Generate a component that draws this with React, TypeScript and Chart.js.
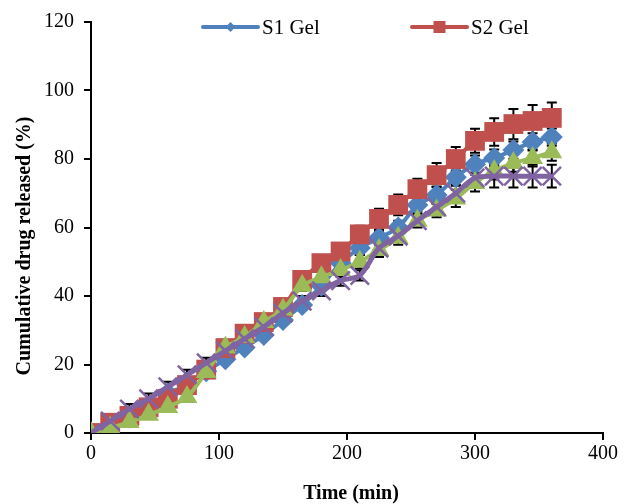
import React, { useEffect, useRef } from "react";
import { Chart, registerables } from "chart.js";

Chart.register(...registerables);

const times = [0, 15, 30, 45, 60, 75, 90, 105, 120, 135, 150, 165, 180, 195, 210, 225, 240, 255, 270, 285, 300, 315, 330, 345, 360];
const s1Gel = [0, 2, 4.5, 7.5, 11.5, 14, 18, 21.5, 25, 28.6, 33, 37.4, 43, 49.6, 54, 57, 60, 66.6, 69.5, 74.7, 78.5, 80.3, 82.6, 85, 86.4];
const s2Gel = [0, 3, 5, 7.5, 10, 14, 18.5, 24.8, 29, 32.4, 36.8, 44.7, 49.6, 53, 58, 62.5, 66.6, 71.2, 75.3, 80, 85.3, 87.9, 90.2, 91.1, 92];
const s3Gel = [0, 1.5, 3.2, 5.3, 7.6, 10.5, 17.8, 25, 28, 32.4, 36, 43, 45.5, 47.6, 50, 53.4, 57, 62, 65, 68.5, 73, 76.5, 78.8, 80.3, 82];
const s4Gel = [0, 3.5, 7, 10, 13.5, 17, 20.5, 24, 27.5, 31, 35, 38.5, 41.5, 44.5, 46, 54, 57.5, 62, 66, 70, 74.5, 75, 75, 75, 75];
const s1Err = [0, 0.5, 0.8, 0.8, 1, 1, 1, 1, 1, 1, 1.2, 1.5, 1.5, 1.5, 2, 2, 2, 2, 2.5, 2.5, 2.5, 2.5, 2.5, 2.5, 2.5];
const s2Err = [0, 0.5, 0.8, 0.8, 1, 1, 1, 1, 1, 1.2, 1.5, 1.5, 2, 2.5, 2.5, 3, 3, 3, 3.5, 3.5, 3.5, 4, 4.4, 4.7, 4.5];
const s3Err = [0, 0.5, 0.5, 0.8, 0.8, 1, 1, 1, 1, 1, 1.2, 1.5, 1.5, 2, 2, 2, 2, 2, 2, 2.5, 2.5, 2.5, 2.5, 2.5, 2.5];
const s4Err = [0, 1.5, 1.5, 1.5, 1.5, 1.5, 1.5, 1.5, 1.5, 1.5, 1.5, 1.5, 1.5, 1.5, 1.5, 1.5, 1.5, 1.5, 1.5, 2.5, 3, 3.3, 3.3, 3.3, 3.3];
const seriesNames = ["S1 Gel", "S2 Gel", "S3 Gel", "S4 Gel"];
const legendNames = ["S1 Gel", "S2 Gel"];

const BLUE = "#4F81BD";
const RED = "#C0504D";
const GREEN = "#9BBB59";
const PURPLE = "#8064A2";
const SERIF = "'Liberation Serif', 'Times New Roman', serif";

const errorsByDataset = [s1Err, s2Err, s3Err, s4Err];

const errorBarPlugin = {
  id: "errorBars",
  beforeDatasetsDraw(chart: any) {
    const ys = chart.scales.y;
    const xs = chart.scales.x;
    const ctx = chart.ctx;
    ctx.save();
    ctx.strokeStyle = "#000";
    ctx.lineWidth = 2;
    errorsByDataset.forEach((errs, idx) => {
      const data = chart.data.datasets[idx].data;
      data.forEach((d: any, i: number) => {
        const e = errs[i];
        if (!e) return;
        const top = ys.getPixelForValue(d.y + e);
        const bot = ys.getPixelForValue(d.y - e);
        const x = xs.getPixelForValue(d.x);
        ctx.beginPath();
        ctx.moveTo(x, top);
        ctx.lineTo(x, bot);
        ctx.moveTo(x - 5, top);
        ctx.lineTo(x + 5, top);
        ctx.moveTo(x - 5, bot);
        ctx.lineTo(x + 5, bot);
        ctx.stroke();
      });
    });
    ctx.restore();
  },
};

const decorPlugin = {
  id: "decor",
  afterDraw(chart: any) {
    const ctx = chart.ctx;
    ctx.save();
    ctx.fillStyle = "#000";
    ctx.font = `bold 20px ${SERIF}`;
    ctx.textAlign = "center";
    ctx.textBaseline = "middle";
    ctx.save();
    ctx.translate(25, 246);
    ctx.rotate(-Math.PI / 2);
    ctx.fillText("Cumulative drug released (%)", 0, 0);
    ctx.restore();
    ctx.fillText("Time (min)", 351, 494);
    const items = [
      { x0: 203, x1: 258, color: BLUE, shape: "diamond", text: legendNames[0] },
      { x0: 412, x1: 467, color: RED, shape: "square", text: legendNames[1] },
    ];
    const ly = 27;
    items.forEach((it) => {
      ctx.strokeStyle = it.color;
      ctx.lineWidth = 4;
      ctx.lineCap = "round";
      ctx.beginPath();
      ctx.moveTo(it.x0, ly);
      ctx.lineTo(it.x1, ly);
      ctx.stroke();
      const cx = (it.x0 + it.x1) / 2;
      ctx.fillStyle = it.color;
      ctx.beginPath();
      if (it.shape === "diamond") {
        ctx.moveTo(cx, ly - 5);
        ctx.lineTo(cx + 5, ly);
        ctx.lineTo(cx, ly + 5);
        ctx.lineTo(cx - 5, ly);
        ctx.closePath();
      } else {
        ctx.rect(cx - 6, ly - 6, 12, 12);
      }
      ctx.fill();
      ctx.fillStyle = "#000";
      ctx.font = `21px ${SERIF}`;
      ctx.textAlign = "left";
      ctx.textBaseline = "middle";
      ctx.fillText(it.text, it.x1 + 4, ly + 1);
    });
    ctx.restore();
  },
};

export default function App() {
  const ref = useRef<HTMLCanvasElement | null>(null);
  useEffect(() => {
    if (!ref.current) return;
    const mk = (vals: number[]) => times.map((t, i) => ({ x: t, y: vals[i] }));
    const chart = new Chart(ref.current, {
      type: "line",
      data: {
        datasets: [
          {
            label: seriesNames[0],
            data: mk(s1Gel),
            borderColor: BLUE,
            backgroundColor: BLUE,
            borderWidth: 4,
            pointStyle: "rectRot",
            pointRadius: 11,
            pointBorderWidth: 0,
            tension: 0.3,
            order: 4,
          },
          {
            label: seriesNames[1],
            data: mk(s2Gel),
            borderColor: RED,
            backgroundColor: RED,
            borderWidth: 4,
            pointStyle: "rect",
            pointRadius: 14,
            pointBorderWidth: 0,
            tension: 0.3,
            order: 3,
          },
          {
            label: seriesNames[2],
            data: mk(s3Gel),
            borderColor: GREEN,
            backgroundColor: GREEN,
            borderWidth: 4,
            pointStyle: "triangle",
            pointRadius: 12,
            pointBorderWidth: 0,
            tension: 0.3,
            order: 2,
          },
          {
            label: seriesNames[3],
            data: mk(s4Gel),
            borderColor: PURPLE,
            backgroundColor: PURPLE,
            borderWidth: 5,
            pointStyle: "crossRot",
            pointRadius: 13,
            pointBorderWidth: 2.5,
            pointBorderColor: PURPLE,
            tension: 0.3,
            order: 1,
          },
        ],
      },
      options: {
        animation: false,
        responsive: false,
        maintainAspectRatio: false,
        layout: { padding: { left: 0, top: 22, right: 27, bottom: 0 } },
        plugins: {
          legend: { display: false },
          tooltip: { enabled: false },
          title: { display: false },
        },
        scales: {
          x: {
            type: "linear",
            min: 0,
            max: 400,
            ticks: { stepSize: 100, color: "#000", font: { family: SERIF, size: 20 }, padding: 2, maxRotation: 0 },
            grid: { drawOnChartArea: false, drawTicks: true, tickLength: 7, color: "#000", lineWidth: 2 },
            border: { color: "#000", width: 2 },
            afterFit: (s: any) => { s.height = 71; },
          },
          y: {
            type: "linear",
            min: 0,
            max: 120,
            ticks: { stepSize: 20, color: "#000", font: { family: SERIF, size: 20 }, padding: 10 },
            grid: { drawOnChartArea: false, drawTicks: true, tickLength: 7, color: "#000", lineWidth: 2 },
            border: { color: "#000", width: 2 },
            afterFit: (s: any) => { s.width = 91; },
          },
        },
      },
      plugins: [errorBarPlugin, decorPlugin],
    } as any);
    return () => chart.destroy();
  }, []);
  return (
    <div style={{ position: "absolute", left: 0, top: 0, width: 630, height: 504, background: "#fff" }}>
      <canvas ref={ref} width={630} height={504} style={{ width: 630, height: 504, display: "block" }} />
    </div>
  );
}
